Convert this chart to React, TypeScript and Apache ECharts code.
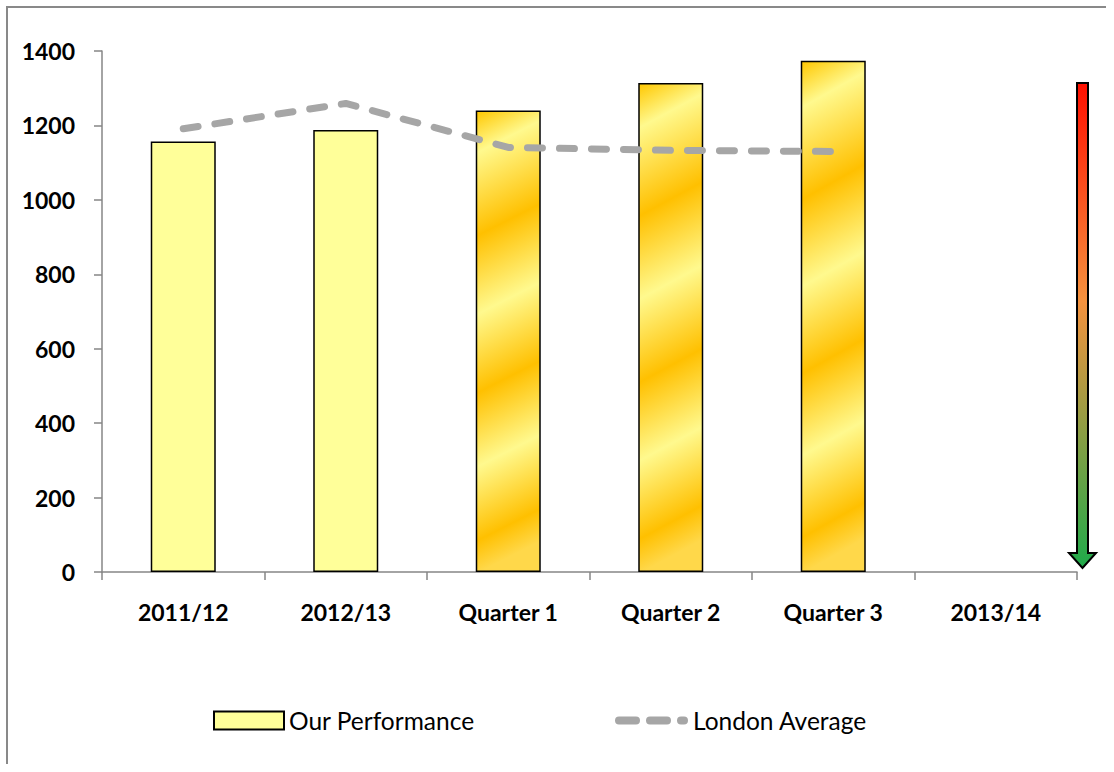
import React, { useEffect, useRef } from "react";
import * as echarts from "echarts";

const categories = ["2011/12", "2012/13", "Quarter 1", "Quarter 2", "Quarter 3", "2013/14"];
const performance = [1157, 1188, 1240, 1314, 1374, null];
const londonAverage = [1191, 1259, 1141, 1133, 1130, null];
const quarterly = [false, false, true, true, true, false];
const yTicks = { min: 0, max: 1400, interval: 200 };

const FONT = "Lato, 'Open Sans', sans-serif";
const DASH_ICON =
  "path://M4,0 H21 A4,4 0 0 1 21,8 H4 A4,4 0 0 1 4,0 Z M35,0 H52 A4,4 0 0 1 52,8 H35 A4,4 0 0 1 35,0 Z M66,0 H69 A4,4 0 0 1 69,8 H66 A4,4 0 0 1 66,0 Z";

function goldGradient() {
  return new echarts.graphic.LinearGradient(0, 0, 0.07, 1, [
    { offset: 0, color: "#FFC700" },
    { offset: 0.09, color: "#FFF98E" },
    { offset: 0.27, color: "#FFC000" },
    { offset: 0.44, color: "#FFF98E" },
    { offset: 0.61, color: "#FFC000" },
    { offset: 0.77, color: "#FFF98E" },
    { offset: 0.93, color: "#FFC000" },
    { offset: 1, color: "#FFD84A" },
  ]);
}

export default function App() {
  const ref = useRef<HTMLDivElement>(null);
  useEffect(() => {
    if (!ref.current) return;
    const chart = echarts.init(ref.current, null, { renderer: "svg" });
    const barData = performance.map((v, i) =>
      v === null
        ? null
        : {
            value: v,
            itemStyle: { color: quarterly[i] ? goldGradient() : "#FFFF99" },
          }
    );
    const legendText = { fontFamily: FONT, fontSize: 24.5, color: "#000" };
    chart.setOption({
      animation: false,
      backgroundColor: "#fff",
      textStyle: { fontFamily: FONT },
      grid: { left: 94, top: 43, right: 29, bottom: 192, containLabel: false },
      legend: [
        {
          left: 200,
          top: 695,
          itemWidth: 70,
          itemHeight: 18,
          textStyle: legendText,
          data: [
            {
              name: "Our Performance",
              icon: "rect",
              itemStyle: { color: "#FFFF99", borderColor: "#000", borderWidth: 2 },
            },
          ],
        },
        {
          left: 602,
          top: 695,
          itemWidth: 73,
          itemHeight: 8,
          textStyle: legendText,
          data: [{ name: "London Average", icon: DASH_ICON, itemStyle: { color: "#A6A6A6", borderWidth: 0 } }],
        },
      ],
      xAxis: {
        type: "category",
        data: categories,
        boundaryGap: true,
        axisLine: { lineStyle: { color: "#868686", width: 1.5 } },
        axisTick: { show: true, length: 8, alignWithLabel: false, lineStyle: { color: "#868686", width: 1.5 } },
        axisLabel: { fontFamily: FONT, fontSize: 23, fontWeight: "bold", color: "#000", margin: 28, interval: 0 },
        splitLine: { show: false },
      },
      yAxis: {
        type: "value",
        min: yTicks.min,
        max: yTicks.max,
        interval: yTicks.interval,
        axisLine: { show: true, lineStyle: { color: "#868686", width: 1.5 } },
        axisTick: { show: true, length: 8, lineStyle: { color: "#868686", width: 1.5 } },
        axisLabel: {
          fontFamily: FONT,
          fontSize: 23,
          fontWeight: "bold",
          color: "#000",
          margin: 27,
          formatter: (v: number) => String(v),
        },
        splitLine: { show: false },
      },
      series: [
        {
          name: "Our Performance",
          type: "bar",
          data: barData,
          barWidth: 65,
          itemStyle: { color: "#FFFF99", borderColor: "#000", borderWidth: 1.5 },
        },
        {
          name: "London Average",
          type: "line",
          data: londonAverage,
          symbol: "none",
          smooth: false,
          lineStyle: { color: "#A6A6A6", width: 7, type: [15, 17], cap: "round" },
          itemStyle: { color: "#A6A6A6" },
        },
      ],
      graphic: [
        {
          type: "polygon",
          shape: {
            points: [
              [1069, 75],
              [1080, 75],
              [1080, 545],
              [1088, 545],
              [1074.5, 560],
              [1061, 545],
              [1069, 545],
            ],
          },
          style: {
            fill: new echarts.graphic.LinearGradient(0, 0, 0, 1, [
              { offset: 0, color: "#FF1000" },
              { offset: 0.45, color: "#F5923E" },
              { offset: 1, color: "#1FAA4A" },
            ]),
            stroke: "#000",
            lineWidth: 2,
          },
        },
      ],
    });
    return () => chart.dispose();
  }, []);
  return (
    <div
      style={{
        position: "absolute",
        left: 6,
        top: 6,
        borderLeft: "2px solid #898989",
        borderTop: "2px solid #898989",
      }}
    >
      <div ref={ref} style={{ width: 1098, height: 756 }} />
    </div>
  );
}
